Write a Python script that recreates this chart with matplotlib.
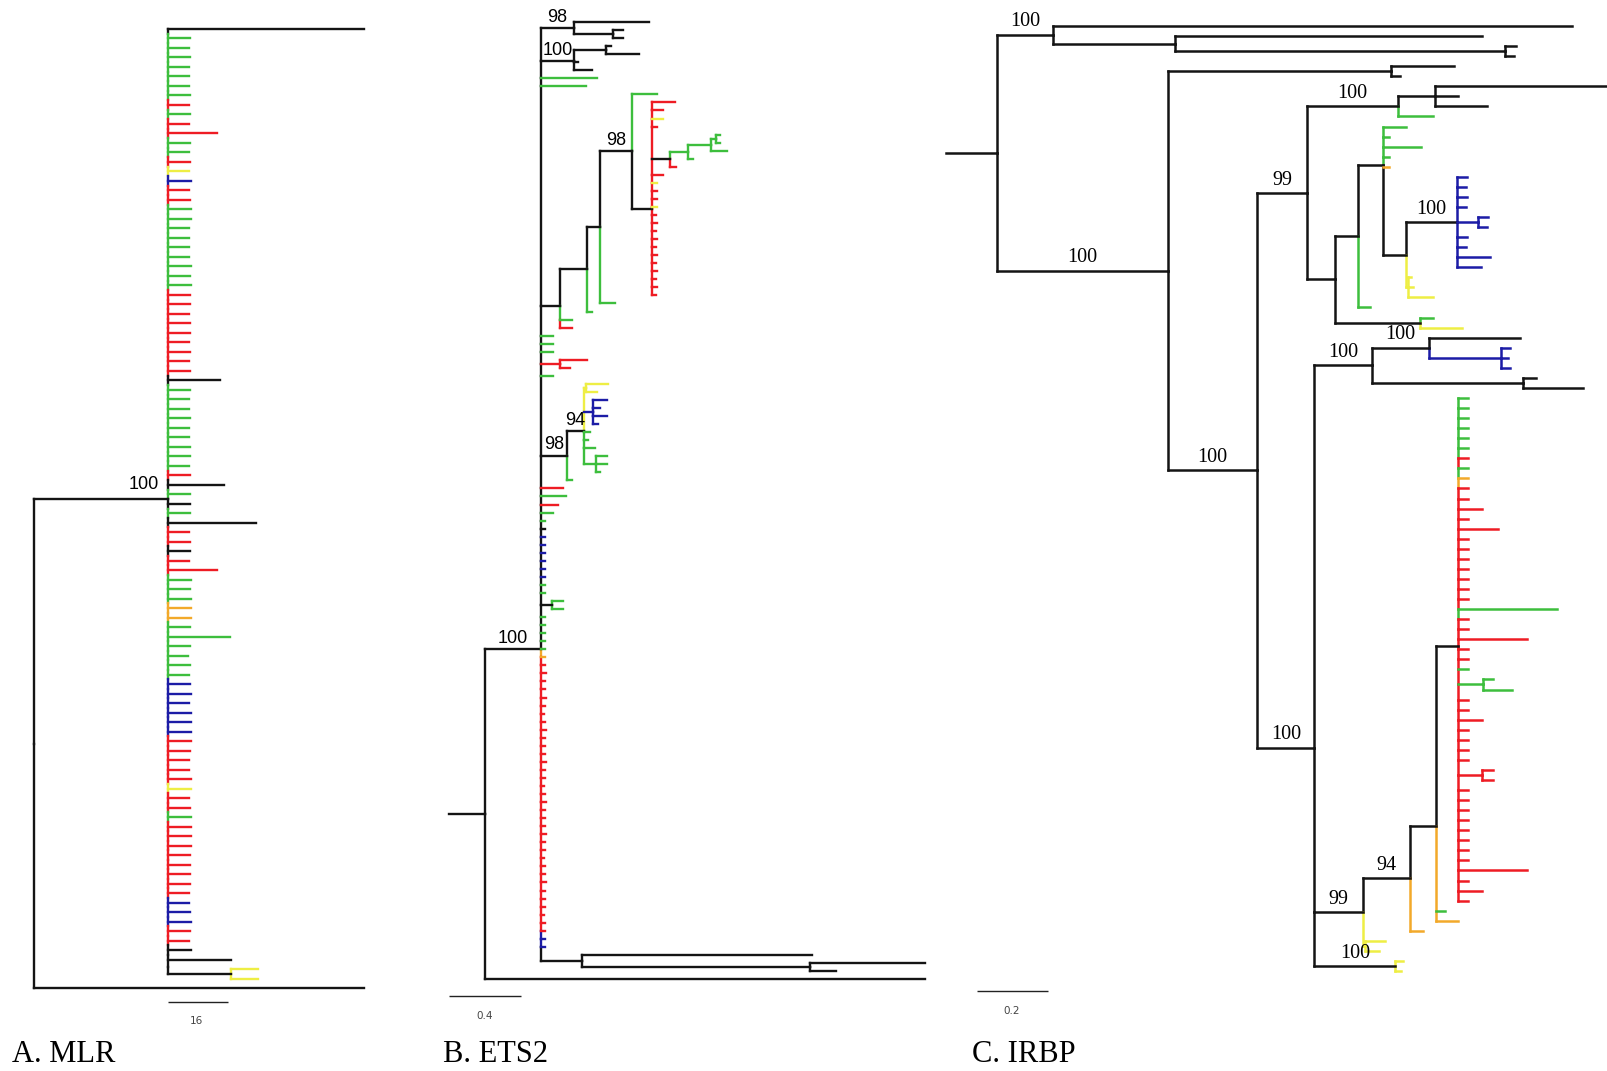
import matplotlib
matplotlib.use("Agg")
import matplotlib.pyplot as plt
from matplotlib.collections import LineCollection

W, H, DPI = 1608, 1071, 100

PALETTE = {"k": "#141414", "g": "#3DBE3D", "r": "#EE1C24", "b": "#1C1CA6",
           "y": "#EEEE44", "o": "#F2A92A"}

# ------------------------------------------------------------------ data
# Panel A (MLR): one large polytomy + a black/yellow cherry, plus outgroup
A_POLY_COLORS = ("k" + "ggggggg" + "rgrrggrybrr" + "ggggggggg" + "rrrrrrrrr" + "k"
                 + "ggggggggg" + "rkgkgkrrkrr" + "ggg" + "oo" + "gggggg" + "bbbbbb"
                 + "rrrrr" + "y" + "rr" + "g" + "rrrrrrr" + "r" + "bbb" + "rr" + "kk")
A_POLY_LENGTHS = [
    52.3, 5.9, 5.7, 5.9, 5.7, 5.7, 5.7, 5.9,
    5.6, 5.9, 5.6, 13.1, 5.9, 5.7, 5.9, 5.6,
    6.1, 5.6, 5.9, 6.1, 6.1, 5.7, 5.7, 5.6,
    5.7, 6.1, 5.9, 6.1, 5.9, 5.9, 5.7, 5.9,
    5.9, 5.7, 5.9, 5.6, 5.9, 13.9, 5.9, 5.7,
    5.7, 5.9, 5.7, 5.7, 5.9, 5.9, 5.7, 5.9,
    14.9, 5.9, 5.9, 5.9, 23.5, 5.6, 5.9, 5.9,
    5.6, 13.1, 6.1, 5.9, 6.1, 6.1, 6.1, 5.9,
    16.5, 5.9, 5.3, 5.9, 5.7, 5.9, 6.1, 5.6,
    6.1, 6.1, 6.1, 6.1, 5.9, 5.7, 5.7, 6.1,
    6.1, 5.7, 5.9, 6.1, 6.1, 6.1, 6.1, 5.9,
    5.9, 5.9, 5.9, 5.7, 5.7, 5.9, 6.1, 5.9,
    5.7, 6.1, 16.8]
A_CHERRY_COLORS = ["y", "y"]
A_CHERRY_LENGTHS = [7.2, 7.2]
A_CHERRY_STEM = 16.8
A_STEM = 35.7
A_SUPPORT = "100"
A_OUTGROUP = 88.0

# Panel B (ETS2), Newick pieces: leaf name = colour code, internal label = support
B_CLADE_98_TOP = "(k:0.417,(k:0.056,k:0.056):0.217)98:0.183"
B_CLADE_100_TOP = "((k:0.028,k:0.183):0.178,k:0.022,k:0.100)100:0.183"
B_SUB_S = "((((g:0.022,g:0.022):0.028,g:0.089):0.128,g:0.028):0.100,r:0.033):0.100"
B_RED_P = ("(r:0.128,r:0.061,y:0.061,r:0.028," + B_SUB_S +
           ",r:0.061,y:0.028,r:0.028,r:0.028,y:0.028,r:0.022,r:0.028,r:0.022,r:0.028,"
           "r:0.022,r:0.028,r:0.022,r:0.028,r:0.022,r:0.028,r:0.022):0.111")
B_CLADE_Q = "((((g:0.139," + B_RED_P + ")98:0.178,g:0.083):0.072,g:0.028):0.150,g:0.067,r:0.067):0.106"
B_CLADE_98_MID = ("(((y:0.122,y:0.061):0.011,(b:0.078,b:0.039,b:0.078,b:0.028):0.050,"
                  "g:0.033,g:0.022,g:0.061,(g:0.061,g:0.061,g:0.022):0.067)94:0.094,g:0.028)98:0.144")
B_GREEN_RUN = "g:0.067,g:0.067,g:0.067"
B_RED_CHERRY = "(r:0.150,r:0.056):0.106"
B_MID_RUN = "g:0.067"
B_AFTER_98 = "r:0.122,g:0.139,r:0.094,g:0.067"
B_TICKS_1 = "g:0.025,k:0.025,b:0.025,b:0.025,b:0.025,b:0.025,b:0.025,b:0.025,g:0.025,g:0.025"
B_BLACK_CHERRY = "(g:0.061,g:0.061)k:0.061"
B_TICKS_2 = "g:0.025,g:0.025,g:0.025,g:0.025,g:0.025,o:0.025"
B_RED_RUN = ("r:0.022,r:0.028,r:0.022,r:0.022,r:0.028,r:0.022,r:0.017,r:0.022,r:0.028,r:0.022,"
             "r:0.022,r:0.022,r:0.028,r:0.022,r:0.022,r:0.017,r:0.022,r:0.028,r:0.022,r:0.022,"
             "r:0.022,r:0.028,r:0.022,r:0.022,r:0.017,r:0.022,r:0.022,r:0.028,r:0.022,r:0.022,"
             "r:0.022,r:0.017,r:0.022,r:0.022")
B_BLUE_RUN = "b:0.022,b:0.022"
B_BOTTOM = "(k:1.278,(k:0.639,k:0.144):1.267):0.228"
B_MAIN = "(" + ",".join([B_CLADE_98_TOP, B_CLADE_100_TOP, "g:0.311", "g:0.250", B_CLADE_Q,
                         B_GREEN_RUN, B_RED_CHERRY, B_MID_RUN, B_CLADE_98_MID, B_AFTER_98,
                         B_TICKS_1, B_BLACK_CHERRY, B_TICKS_2, B_RED_RUN, B_BLUE_RUN,
                         B_BOTTOM]) + ")100:0.311"
B_TREE = "(" + B_MAIN + ",k:2.444):0.200"

# Panel C (IRBP)
C_TOP = "(k:1.462,(k:0.865,(k:0.031,k:0.025):0.930):0.344)100:0.158"
C_BLUE = ("(b:0.028,b:0.023,b:0.028,b:0.025,(b:0.028,b:0.023):0.059,b:0.028,b:0.025,"
          "b:0.093,b:0.065)100:0.146")
C_YEL = "(y:0.008,y:0.014,y:0.070):0.006"
C_N1382 = "(g:0.065,g:0.017,g:0.107,g:0.017,o:0.017,(" + C_BLUE + "," + C_YEL + "):0.065):0.068"
C_N1335 = "((" + C_N1382 + ",g:0.034):0.065,(g:0.037,y:0.118):0.239):0.079"
C_N1398 = "((k:0.521,k:0.065,k:0.146):0.104,g:0.099)100:0.256"
C_N99 = "(" + C_N1398 + "," + C_N1335 + ")99:0.141"
C_POLY = ("(g:0.028,g:0.028,g:0.028,g:0.028,g:0.028,g:0.028,r:0.028,g:0.028,o:0.028,r:0.028,"
          "r:0.028,r:0.068,r:0.028,r:0.113,r:0.028,r:0.028,r:0.028,r:0.028,r:0.028,r:0.028,"
          "r:0.028,g:0.279,r:0.028,r:0.028,r:0.194,r:0.028,r:0.028,g:0.028,"
          "(g:0.028,g:0.082):0.070,r:0.028,r:0.028,r:0.068,r:0.028,r:0.028,r:0.028,r:0.028,"
          "(r:0.031,r:0.031):0.068,r:0.028,r:0.028,r:0.028,r:0.028,r:0.028,r:0.028,r:0.028,"
          "r:0.028,r:0.194,r:0.028,r:0.068,r:0.028):0.062")
C_N94 = "((" + C_POLY + ",g:0.025,o:0.062):0.073,o:0.037)94:0.132"
C_N99B = "(" + C_N94 + ",(y:0.056,y:0.037):0.006)99:0.138"
C_N1371 = "((k:0.256,(b:0.025,b:0.020,b:0.025):0.203)100:0.161,(k:0.034,k:0.169):0.428)100:0.161"
C_N1314 = "(" + C_N1371 + "," + C_N99B + ",(y:0.023,y:0.017)100:0.228)100:0.161"
C_N1226 = "(" + C_N99 + "," + C_N1314 + ")100:0.251"
C_N1139 = "((k:0.177,k:0.025):0.628," + C_N1226 + ")100:0.482"
C_TREE = "(" + C_TOP + "," + C_N1139 + "):0.145"

SCALE_VALUES = {"A": 16, "B": 0.4, "C": 0.2}
SCALE_LABELS = {"A": "16", "B": "0.4", "C": "0.2"}
TITLES = {"A": "A. MLR", "B": "B. ETS2", "C": "C. IRBP"}


def build_a():
    leaves = ",".join(f"{c}:{l}" for c, l in zip(A_POLY_COLORS, A_POLY_LENGTHS))
    cherry = "(" + ",".join(f"{c}:{l}" for c, l in zip(A_CHERRY_COLORS, A_CHERRY_LENGTHS)) \
             + f")k:{A_CHERRY_STEM}"
    poly = f"({leaves},{cherry}){A_SUPPORT}:{A_STEM}"
    return f"({poly},k:{A_OUTGROUP}):0"


# ------------------------------------------------------------------ layout (style)
PANELS = {
    "A": dict(root_px=34, ppu=3.75, y_top=29, y_bot=988, lw=1.7, vmode="split",
              lab_font="Liberation Sans", lab_size=13, lab_frac=0.82, lab_off=7.0,
              bar_px=168, bar_py=1002, bar_lab=(196, 1021), title_px=(12, 1054)),
    "B": dict(root_px=485, ppu=180.0, y_top=22, y_bot=979, lw=1.7, vmode="up",
              lab_font="Liberation Sans", lab_size=13, lab_frac=0.5, lab_off=4.5,
              bar_px=449, bar_py=996, bar_lab=(485, 1016), title_px=(443, 1054)),
    "C": dict(root_px=997, ppu=355.0, y_top=26, y_bot=971, lw=1.8, vmode="down",
              lab_font="Liberation Serif", lab_size=14.5, lab_frac=0.5, lab_off=6.0,
              bar_px=977, bar_py=991, bar_lab=(1012, 1011), title_px=(972, 1054)),
}


def parse(s):
    s = "".join(s.split()).rstrip(";")
    pos = 0

    def node():
        nonlocal pos
        children = []
        if s[pos] == "(":
            pos += 1
            while True:
                children.append(node())
                if s[pos] == ",":
                    pos += 1
                    continue
                if s[pos] == ")":
                    pos += 1
                    break
        start = pos
        while pos < len(s) and s[pos] not in ":,()":
            pos += 1
        label = s[start:pos]
        length = 0.0
        if pos < len(s) and s[pos] == ":":
            pos += 1
            start = pos
            while pos < len(s) and s[pos] not in ",()":
                pos += 1
            length = float(s[start:pos])
        return {"children": children, "label": label, "length": length}

    return node()


def colorize(n):
    if not n["children"]:
        n["code"] = n["label"]
        n["support"] = ""
        return {n["label"]}
    codes = set()
    for c in n["children"]:
        codes |= colorize(c)
    lab = n["label"]
    support = "".join(ch for ch in lab if ch.isdigit())
    explicit = "".join(ch for ch in lab if ch.isalpha())
    n["support"] = support
    if explicit:
        n["code"] = explicit
    elif support:
        n["code"] = "k"
    elif len(codes) == 1:
        n["code"] = next(iter(codes))
    else:
        n["code"] = "k"
    return codes


def assign(n, x, counter):
    n["x"] = x
    if n["children"]:
        for c in n["children"]:
            assign(c, x + c["length"], counter)
        n["y"] = sum(c["y"] for c in n["children"]) / len(n["children"])
    else:
        n["y"] = counter[0]
        counter[0] += 1


def vertical_pieces(n, mode):
    """Return (y0, y1, colour code) pieces of the vertical connector of node n."""
    ch = n["children"]
    out = []
    if mode == "split":
        for i, c in enumerate(ch):
            lo = ch[0]["y"] if i == 0 else (ch[i - 1]["y"] + c["y"]) / 2
            hi = ch[-1]["y"] if i == len(ch) - 1 else (c["y"] + ch[i + 1]["y"]) / 2
            if hi > lo:
                out.append((lo, hi, c["code"]))
        return out
    ny = n["y"]
    pts = sorted(set([c["y"] for c in ch] + [ny]))
    for a, b in zip(pts[:-1], pts[1:]):
        if b <= ny + 1e-9:
            if mode == "up":
                col = ch[0]["code"]
            else:
                col = [c for c in ch if c["y"] <= a + 1e-9][-1]["code"]
        else:
            if mode == "up":
                col = [c for c in ch if c["y"] >= b - 1e-9][0]["code"]
            else:
                col = ch[-1]["code"]
        out.append((a, b, col))
    return out


fig = plt.figure(figsize=(W / DPI, H / DPI), dpi=DPI)
fig.patch.set_facecolor("white")


def draw_panel(key, tree_str):
    cfg = PANELS[key]
    root = parse(tree_str)
    colorize(root)
    counter = [0]
    assign(root, 0.0, counter)
    n_leaves = counter[0]
    step = (cfg["y_bot"] - cfg["y_top"]) / (n_leaves - 1)
    ppu = cfg["ppu"]

    ax = fig.add_axes([0, 0, 1, 1])
    ax.axis("off")
    ax.set_xlim(-cfg["root_px"] / ppu, (W - cfg["root_px"]) / ppu)
    ax.set_ylim((H - cfg["y_top"]) / step, -cfg["y_top"] / step)

    vsegs, vcols, hsegs, hcols, labels = [], [], [], [], []

    def walk(n, parent):
        if parent is None:
            if n["length"] > 0:
                hsegs.append([(-n["length"], n["y"]), (0, n["y"])])
                hcols.append(PALETTE["k"])
        else:
            hsegs.append([(parent["x"], n["y"]), (n["x"], n["y"])])
            hcols.append(PALETTE[n["code"]])
            if n["support"]:
                labels.append((parent["x"] + cfg["lab_frac"] * (n["x"] - parent["x"]),
                               n["y"], n["support"]))
        if n["children"]:
            for lo, hi, code in vertical_pieces(n, cfg["vmode"]):
                vsegs.append([(n["x"], lo), (n["x"], hi)])
                vcols.append(PALETTE[code])
        for c in n["children"]:
            walk(c, n)

    walk(root, None)
    ax.add_collection(LineCollection(vsegs, colors=vcols, linewidths=cfg["lw"],
                                     capstyle="projecting"))
    ax.add_collection(LineCollection(hsegs, colors=hcols, linewidths=cfg["lw"],
                                     capstyle="projecting"))
    for x, y, txt in labels:
        ax.annotate(txt, xy=(x, y), xytext=(0, cfg["lab_off"]), textcoords="offset points",
                    ha="center", va="baseline", fontsize=cfg["lab_size"],
                    family=cfg["lab_font"], color="black")

    # scale bar
    x0 = (cfg["bar_px"] - cfg["root_px"]) / ppu
    yb = (cfg["bar_py"] - cfg["y_top"]) / step
    ax.plot([x0, x0 + SCALE_VALUES[key]], [yb, yb], color="#222222", lw=1.0,
            solid_capstyle="butt")
    lx = (cfg["bar_lab"][0] - cfg["root_px"]) / ppu
    ly = (cfg["bar_lab"][1] - cfg["y_top"]) / step
    ax.text(lx, ly, SCALE_LABELS[key], ha="center", va="center", fontsize=7.5,
            family="DejaVu Sans", color="#444444")

    tx, ty = cfg["title_px"]
    fig.text(tx / W, 1 - ty / H, TITLES[key], ha="left", va="center",
             fontsize=22, family="Liberation Serif", color="black")


draw_panel("A", build_a())
draw_panel("B", B_TREE)
draw_panel("C", C_TREE)

fig.savefig("out.png", dpi=DPI, facecolor="white")
